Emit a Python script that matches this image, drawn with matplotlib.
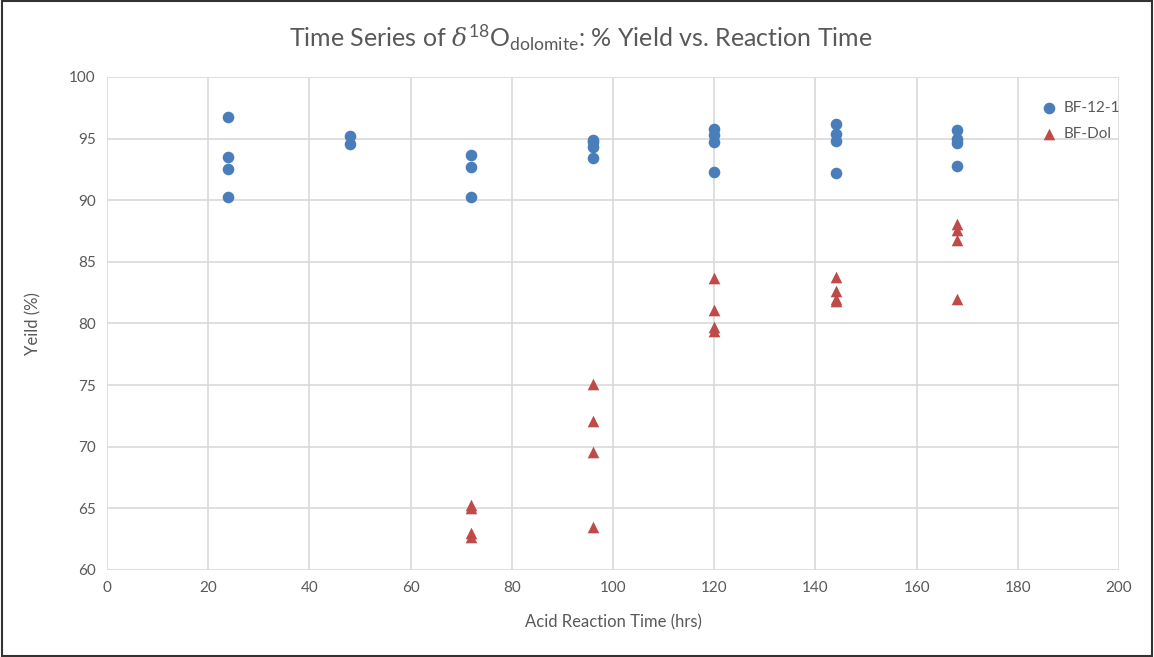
import matplotlib.pyplot as plt
from matplotlib.patches import Rectangle

# --- Data ---
bf12_time = [24, 24, 24, 24, 48, 48, 72, 72, 72,
             96, 96, 96, 96, 120, 120, 120, 120,
             144, 144, 144, 144, 168, 168, 168, 168]
bf12_yield = [96.75, 93.5, 92.5, 90.3, 95.2, 94.6, 93.7, 92.7, 90.25,
              94.9, 94.7, 94.35, 93.45, 95.8, 95.3, 94.7, 92.3,
              96.2, 95.4, 94.8, 92.25, 95.7, 95.0, 94.65, 92.8]

dol_time = [72, 72, 72, 72, 96, 96, 96, 96,
            120, 120, 120, 120, 144, 144, 144, 144,
            168, 168, 168, 168]
dol_yield = [65.3, 65.0, 63.0, 62.7, 75.1, 72.1, 69.6, 63.5,
             83.7, 81.1, 79.7, 79.4, 83.8, 82.6, 82.0, 81.8,
             88.1, 87.6, 86.8, 82.0]

x_ticks = list(range(0, 201, 20))
y_ticks = list(range(60, 101, 5))

TXT = '#595959'
plt.rcParams['font.family'] = ['Lato', 'DejaVu Sans']
plt.rcParams['mathtext.fontset'] = 'custom'
plt.rcParams['mathtext.rm'] = 'Lato'
plt.rcParams['mathtext.it'] = 'DejaVu Serif:italic'

fig = plt.figure(figsize=(11.54, 6.57), dpi=100)
ax = fig.add_axes([107 / 1154, 1 - 570 / 657, (1119 - 107) / 1154, (570 - 77) / 657])

ax.scatter(bf12_time, bf12_yield, marker='o', s=70, color='#4a7ebb',
           label='BF-12-1', zorder=3, linewidths=0)
ax.scatter(dol_time, dol_yield, marker='^', s=70, color='#be4b48',
           label='BF-Dol', zorder=3, linewidths=0)

ax.set_xlim(0, 200)
ax.set_ylim(60, 100)
ax.set_xticks(x_ticks)
ax.set_yticks(y_ticks)
ax.grid(True, color='#d9d9d9', lw=1.2)
ax.set_axisbelow(True)
for s in ax.spines.values():
    s.set_visible(False)
ax.tick_params(length=0, labelsize=11, labelcolor=TXT, pad=8)

ax.set_xlabel('Acid Reaction Time (hrs)', fontsize=12, color=TXT, labelpad=14)
ax.set_ylabel('Yeild (%)', fontsize=12, color=TXT, labelpad=20)
fig.text(0.503, 1 - 38 / 657,
         r'Time Series of $\delta^{18}\mathrm{O}_{\mathrm{dolomite}}$: % Yield vs. Reaction Time',
         fontsize=18, color=TXT, ha='center', va='center')

leg = ax.legend(loc='upper right', bbox_to_anchor=(1.015, 0.98), frameon=False,
                fontsize=11, handletextpad=0.0, labelspacing=0.8, markerscale=1.0)
for t in leg.get_texts():
    t.set_color(TXT)

fig.patches.append(Rectangle((0.002, 0.002), 0.996, 0.996, transform=fig.transFigure,
                             fill=False, edgecolor='#333333', lw=1.5))

fig.savefig('out.png', dpi=100)
